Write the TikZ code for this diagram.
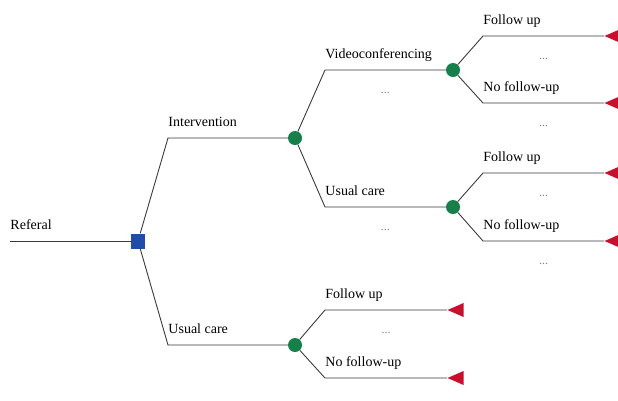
\documentclass[tikz,border=0pt]{standalone}
\usepackage{fontspec}
\setmainfont{Liberation Serif}
\usetikzlibrary{shapes.geometric}
\definecolor{decblue}{HTML}{1F4EA8}
\definecolor{chancegreen}{HTML}{17804A}
\definecolor{termred}{HTML}{C8102E}
\definecolor{linegray}{HTML}{3A3A3A}
\begin{document}
\begin{tikzpicture}[x=1pt,y=-1pt]
        \tikzset{
            decision/.style={rectangle, fill=decblue, minimum width=14pt, minimum height=15pt, inner sep=0pt},
            chance/.style={circle, fill=chancegreen, minimum size=14pt, inner sep=0pt},
            terminal/.style={isosceles triangle, shape border rotate=180, isosceles triangle stretches, fill=termred, minimum width=14pt, minimum height=16pt, inner sep=0pt, anchor=apex},
            branch/.style={draw=linegray, line width=0.9pt},
            lbl/.style={anchor=base west, inner sep=0pt, yshift=12pt, font=\fontsize{14}{16}\selectfont},
            more/.style={midway, anchor=base, inner sep=0pt, yshift=-23pt, text=gray, font=\fontsize{12}{14}\selectfont}
        }
        \useasboundingbox (0,0) rectangle (618,400);

        % decision and chance nodes
        \node[decision] (root) at (138,241) {};
        \node[chance] (iv) at (295,138) {};
        \node[chance] (uc) at (295,345) {};
        \node[chance] (vc) at (453,70) {};
        \node[chance] (ivuc) at (453,207) {};

        % terminal nodes
        \node[terminal] (t1) at (604,36) {};
        \node[terminal] (t2) at (604,103) {};
        \node[terminal] (t3) at (604,173) {};
        \node[terminal] (t4) at (604,241) {};
        \node[terminal] (t5) at (447,310) {};
        \node[terminal] (t6) at (447,378) {};

        % bends
        \coordinate (start) at (10,241);
        \coordinate (k1) at (168,138);
        \coordinate (k2) at (168,345);
        \coordinate (k3) at (325,70);
        \coordinate (k4) at (325,207);
        \coordinate (k5) at (483,36);
        \coordinate (k6) at (483,103);
        \coordinate (k7) at (483,173);
        \coordinate (k8) at (483,241);
        \coordinate (k9) at (325,310);
        \coordinate (k10) at (325,378);

        \draw[branch] (start) node[lbl] {Referal} -- (root);
        \draw[branch] (root) -- (k1) node[lbl] {Intervention} -- (iv);
        \draw[branch] (root) -- (k2) node[lbl] {Usual care} -- (uc);

        \draw[branch] (iv) -- (k3) node[lbl] {Videoconferencing} -- node[more] {...} (vc);
        \draw[branch] (iv) -- (k4) node[lbl] {Usual care} -- node[more] {...} (ivuc);

        \draw[branch] (vc) -- (k5) node[lbl] {Follow up} -- node[more] {...} (t1.apex);
        \draw[branch] (vc) -- (k6) node[lbl] {No follow-up} -- node[more] {...} (t2.apex);
        \draw[branch] (ivuc) -- (k7) node[lbl] {Follow up} -- node[more] {...} (t3.apex);
        \draw[branch] (ivuc) -- (k8) node[lbl] {No follow-up} -- node[more] {...} (t4.apex);

        \draw[branch] (uc) -- (k9) node[lbl] {Follow up} -- node[more] {...} (t5.apex);
        \draw[branch] (uc) -- (k10) node[lbl] {No follow-up} -- (t6.apex);
\end{tikzpicture}
\end{document}
